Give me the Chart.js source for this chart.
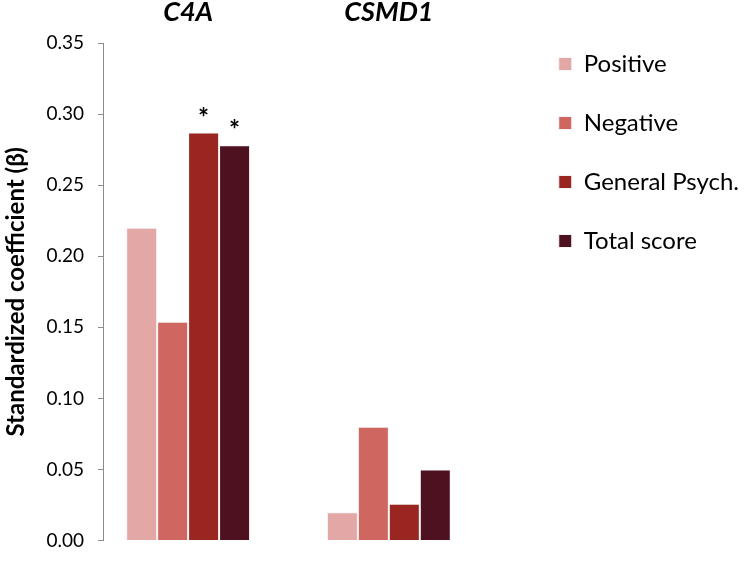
<!DOCTYPE html>
<html>
<head>
<meta charset="utf-8">
<script src="https://cdn.jsdelivr.net/npm/chart.js@4.4.1/dist/chart.umd.min.js"></script>
<style>
  html, body { margin: 0; padding: 0; background: #fff; }
  #wrap { width: 749px; height: 566px; }
</style>
</head>
<body>
<div id="wrap"><canvas id="grafico"></canvas></div>
<script>
// Dados do gráfico
const genes = ['C4A', 'CSMD1'];
const escalas = ['Positive', 'Negative', 'General Psych.', 'Total score'];
const positivo = [0.220, 0.020];
const negativo = [0.154, 0.080];
const geral = [0.287, 0.026];
const total = [0.278, 0.050];
// asterisco (p < 0.05) por escala e gene
const sigPositivo = [false, false];
const sigNegativo = [false, false];
const sigGeral = [true, false];
const sigTotal = [true, false];

const cores = ['#e3a7a5', '#cf6660', '#9a2621', '#4d1120'];
const valores = [positivo, negativo, geral, total];
const signif = [sigPositivo, sigNegativo, sigGeral, sigTotal];

const fonte = 'Lato, "Open Sans", sans-serif';

// Plugin simples para desenhar os asteriscos acima das barras
const asteriscos = {
    id: 'asteriscos',
    afterDatasetsDraw(chart) {
        const ctx = chart.ctx;
        ctx.save();
        ctx.font = 'bold 26px ' + fonte;
        ctx.fillStyle = '#000';
        ctx.textAlign = 'center';
        ctx.textBaseline = 'alphabetic';
        chart.data.datasets.forEach((ds, i) => {
            const meta = chart.getDatasetMeta(i);
            meta.data.forEach((bar, j) => {
                if (signif[i][j]) ctx.fillText('*', bar.x, bar.y - 6);
            });
        });
        ctx.restore();
    }
};

function criarGrafico() {
    const ctx = document.getElementById('grafico').getContext('2d');
    return new Chart(ctx, {
        type: 'bar',
        data: {
            datasets: escalas.map((nome, i) => ({
                label: nome,
                data: genes.map((g, j) => ({ x: j + 1, y: valores[i][j] })),
                backgroundColor: cores[i],
                borderColor: '#f4f4f4',
                borderWidth: 1,
                barPercentage: 1,
                categoryPercentage: 0.617
            }))
        },
        options: {
            responsive: true,
            maintainAspectRatio: false,
            animation: false,
            layout: { padding: { top: 0, bottom: 13, left: 0, right: 0 } },
            plugins: {
                tooltip: { enabled: false },
                legend: {
                    position: 'right',
                    align: 'start',
                    maxWidth: 260,
                    title: { display: true, text: ' ', font: { size: 9, lineHeight: 1 }, padding: 4 },
                    labels: {
                        font: { family: fonte, size: 24 },
                        color: '#000',
                        boxWidth: 13,
                        boxHeight: 13,
                        padding: 35
                    }
                }
            },
            scales: {
                x: {
                    type: 'linear',
                    position: 'top',
                    offset: false,
                    bounds: 'data',
                    min: 0.576,
                    max: 2.672,
                    afterBuildTicks: (scale) => { scale.ticks = genes.map((g, j) => ({ value: j + 1 })); },
                    afterFit: (scale) => { scale.height = 43; },
                    grid: { display: false, offset: false },
                    border: { display: false },
                    ticks: {
                        callback: (v) => genes[v - 1],
                        font: { family: fonte, size: 27, weight: 'bold', style: 'italic' },
                        color: '#000',
                        padding: 7,
                        maxRotation: 0
                    }
                },
                y: {
                    min: 0,
                    max: 0.35,
                    afterFit: (scale) => { scale.width = 103; },
                    grid: { drawOnChartArea: false, tickLength: 5, color: '#8c8c8c' },
                    border: { display: true, color: '#8c8c8c', width: 1 },
                    ticks: {
                        stepSize: 0.05,
                        callback: (v) => v.toFixed(2),
                        font: { family: fonte, size: 19 },
                        color: '#000',
                        padding: 14
                    },
                    title: {
                        display: true,
                        text: 'Standardized coefficient (β)',
                        font: { family: fonte, size: 24, weight: 'bold' },
                        color: '#000',
                        padding: 2
                    }
                }
            }
        },
        plugins: [asteriscos]
    });
}

// espera as fontes para medir o texto corretamente
Promise.all([
    document.fonts.load('24px Lato'),
    document.fonts.load('bold 24px Lato'),
    document.fonts.load('italic bold 27px Lato')
]).catch(() => {}).then(criarGrafico);
</script>
</body>
</html>
